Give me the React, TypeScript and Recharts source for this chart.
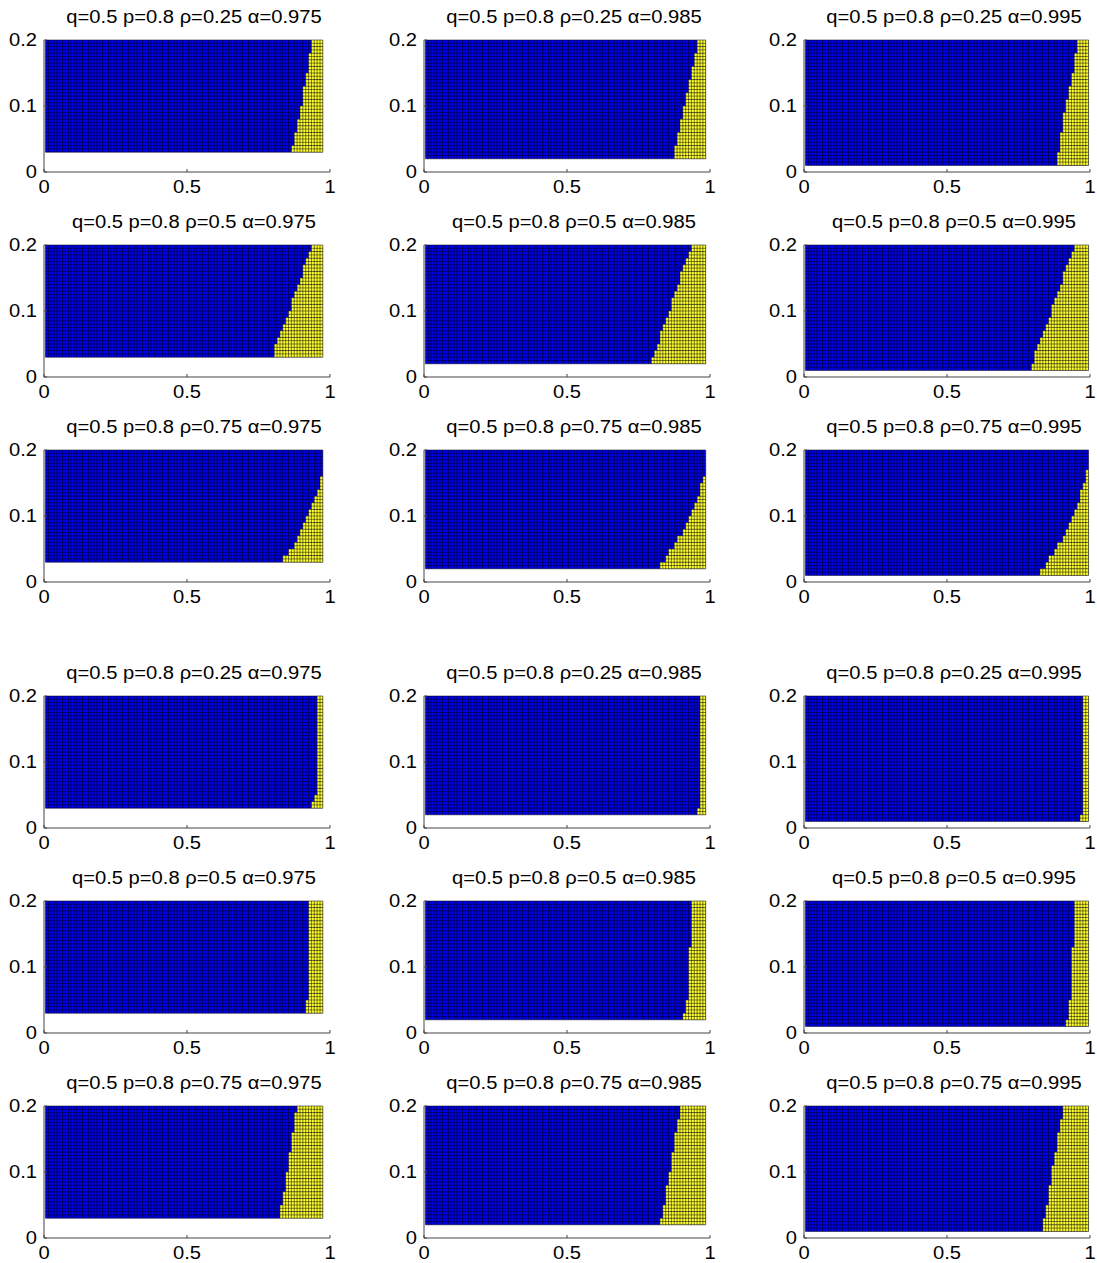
import React from 'react';
import { ComposedChart, XAxis, YAxis, ReferenceArea, ReferenceLine } from 'recharts';

const qValue = '0.5';
const pValue = '0.8';
const rhoLabels = ['0.25', '0.5', '0.75'];
const alphaValues = [0.975, 0.985, 0.995];
// lowest y value of the computed grid, one per alpha
const gridBottoms = [0.03, 0.02, 0.01];
const xTicks = [0, 0.5, 1];
const yTicks = [0, 0.1, 0.2];

// x where the yellow region starts, one value per 0.01 band of y (grid bottom upwards)
// upper block of figures
const up_r25_a975 = [0.865, 0.875, 0.875, 0.885, 0.885, 0.895, 0.895, 0.905, 0.905, 0.905, 0.915, 0.915, 0.925, 0.925, 0.925, 0.935, 0.935];
const up_r25_a985 = [0.875, 0.875, 0.885, 0.885, 0.895, 0.895, 0.905, 0.905, 0.915, 0.915, 0.925, 0.925, 0.935, 0.935, 0.945, 0.945, 0.955, 0.955];
const up_r25_a995 = [0.885, 0.885, 0.895, 0.895, 0.895, 0.905, 0.905, 0.905, 0.915, 0.915, 0.925, 0.925, 0.935, 0.935, 0.945, 0.945, 0.945, 0.955, 0.955];
const up_r50_a975 = [0.805, 0.805, 0.815, 0.825, 0.835, 0.845, 0.855, 0.865, 0.865, 0.875, 0.885, 0.895, 0.905, 0.905, 0.915, 0.925, 0.935];
const up_r50_a985 = [0.795, 0.805, 0.815, 0.825, 0.825, 0.835, 0.845, 0.855, 0.865, 0.865, 0.875, 0.885, 0.895, 0.895, 0.905, 0.915, 0.925, 0.935];
const up_r50_a995 = [0.795, 0.805, 0.805, 0.815, 0.825, 0.835, 0.845, 0.855, 0.865, 0.865, 0.875, 0.885, 0.895, 0.905, 0.905, 0.915, 0.925, 0.935, 0.945];
const up_r75_a975 = [0.835, 0.855, 0.875, 0.885, 0.895, 0.905, 0.915, 0.925, 0.935, 0.945, 0.955, 0.965, 0.965, 0.975, 0.975, 0.975, 0.975];
const up_r75_a985 = [0.825, 0.845, 0.855, 0.875, 0.885, 0.905, 0.915, 0.925, 0.935, 0.945, 0.955, 0.965, 0.965, 0.975, 0.985, 0.985, 0.985, 0.985];
const up_r75_a995 = [0.825, 0.845, 0.855, 0.875, 0.885, 0.905, 0.915, 0.925, 0.935, 0.945, 0.955, 0.965, 0.965, 0.975, 0.985, 0.985, 0.995, 0.995, 0.995];

// lower block of figures
const lo_r25_a975 = [0.935, 0.945, 0.955, 0.955, 0.955, 0.955, 0.955, 0.955, 0.955, 0.955, 0.955, 0.955, 0.955, 0.955, 0.955, 0.955, 0.955];
const lo_r25_a985 = [0.955, 0.965, 0.965, 0.965, 0.965, 0.965, 0.965, 0.965, 0.965, 0.965, 0.965, 0.965, 0.965, 0.965, 0.965, 0.965, 0.965, 0.965];
const lo_r25_a995 = [0.965, 0.975, 0.975, 0.975, 0.975, 0.975, 0.975, 0.975, 0.975, 0.975, 0.975, 0.975, 0.975, 0.975, 0.975, 0.975, 0.975, 0.975, 0.975];
const lo_r50_a975 = [0.915, 0.915, 0.925, 0.925, 0.925, 0.925, 0.925, 0.925, 0.925, 0.925, 0.925, 0.925, 0.925, 0.925, 0.925, 0.925, 0.925];
const lo_r50_a985 = [0.905, 0.915, 0.915, 0.925, 0.925, 0.925, 0.925, 0.925, 0.925, 0.925, 0.925, 0.935, 0.935, 0.935, 0.935, 0.935, 0.935, 0.935];
const lo_r50_a995 = [0.915, 0.925, 0.925, 0.925, 0.935, 0.935, 0.935, 0.935, 0.935, 0.935, 0.935, 0.935, 0.945, 0.945, 0.945, 0.945, 0.945, 0.945, 0.945];
const lo_r75_a975 = [0.825, 0.825, 0.835, 0.835, 0.845, 0.845, 0.845, 0.855, 0.855, 0.855, 0.865, 0.865, 0.865, 0.875, 0.875, 0.875, 0.885];
const lo_r75_a985 = [0.825, 0.835, 0.835, 0.845, 0.845, 0.845, 0.855, 0.855, 0.865, 0.865, 0.865, 0.875, 0.875, 0.875, 0.885, 0.885, 0.895, 0.895];
const lo_r75_a995 = [0.835, 0.835, 0.845, 0.845, 0.855, 0.855, 0.855, 0.865, 0.865, 0.865, 0.875, 0.875, 0.885, 0.885, 0.885, 0.895, 0.895, 0.905, 0.905];

const upperBlock = [
  [up_r25_a975, up_r25_a985, up_r25_a995],
  [up_r50_a975, up_r50_a985, up_r50_a995],
  [up_r75_a975, up_r75_a985, up_r75_a995],
];
const lowerBlock = [
  [lo_r25_a975, lo_r25_a985, lo_r25_a995],
  [lo_r50_a975, lo_r50_a985, lo_r50_a995],
  [lo_r75_a975, lo_r75_a985, lo_r75_a995],
];

// page layout (plot area corners)
const colLefts = [44, 424, 804];
const rowTops = [40, 245, 450, 696, 901, 1106];
const PLOT_W = 286;
const PLOT_H = 132;
const Y_AXIS_W = 44;
const X_AXIS_H = 30;
const TOP_PAD = 14;
const RIGHT_PAD = 14;

const BLUE = '#0000f0';
const YELLOW = '#ffff30';
const FONT = '"Liberation Sans", Arial, sans-serif';
const STRETCH = 1.12;

const StretchTick = (props: any) => {
  const { x, y, payload, textAnchor, verticalAnchor } = props;
  const dy = verticalAnchor === 'start' ? '0.71em' : '0.355em';
  return (
    <g transform={`translate(${x},${y}) scale(${STRETCH},1)`}>
      <text x={0} y={0} dy={dy} textAnchor={textAnchor} fontSize={18} fontFamily={FONT} fill="#000">
        {payload.value}
      </text>
    </g>
  );
};

const Panel = ({ rho, alpha, bottom, edges, left, top }: any) => {
  const xLines: number[] = [];
  for (let k = 0; ; k++) {
    const v = +(0.005 + k * 0.01).toFixed(3);
    if (v > alpha + 1e-9) break;
    xLines.push(v);
  }
  const yLines: number[] = [];
  for (let j = 0; ; j++) {
    const v = +(bottom + j * 0.005).toFixed(3);
    if (v > 0.2 + 1e-9) break;
    yLines.push(v);
  }
  return (
    <>
      <div
        style={{
          position: 'absolute',
          left: left + 7,
          top: top - 33,
          width: PLOT_W,
          height: 20,
          lineHeight: '20px',
          textAlign: 'center',
          fontFamily: FONT,
          fontSize: 18,
          whiteSpace: 'nowrap',
          transform: `scaleX(${STRETCH})`,
        }}
      >
        q={qValue} p={pValue} ρ={rho} α={alpha}
      </div>
      <div style={{ position: 'absolute', left: left - Y_AXIS_W, top: top - TOP_PAD }}>
        <ComposedChart
          width={Y_AXIS_W + PLOT_W + RIGHT_PAD}
          height={TOP_PAD + PLOT_H + X_AXIS_H}
          margin={{ top: TOP_PAD, right: RIGHT_PAD, bottom: 0, left: 0 }}
        >
          <XAxis
            type="number"
            dataKey="x"
            domain={[0, 1]}
            ticks={xTicks}
            interval={0}
            allowDataOverflow
            height={X_AXIS_H}
            axisLine={{ stroke: '#444' }}
            tickLine={{ stroke: '#444' }}
            tickSize={-3}
            tickMargin={11}
            tick={<StretchTick />}
          />
          <YAxis
            type="number"
            dataKey="y"
            domain={[0, 0.2]}
            ticks={yTicks}
            interval={0}
            allowDataOverflow
            width={Y_AXIS_W}
            axisLine={{ stroke: '#444' }}
            tickLine={{ stroke: '#444' }}
            tickSize={-3}
            tickMargin={10}
            tick={<StretchTick />}
          />
          <ReferenceArea x1={0.005} x2={alpha} y1={bottom} y2={0.2} fill={BLUE} fillOpacity={1} stroke="none" />
          {edges.map((e: number, i: number) =>
            e < alpha ? (
              <ReferenceArea
                key={`yl-${i}`}
                x1={e}
                x2={alpha}
                y1={+(bottom + i * 0.01).toFixed(3)}
                y2={+(bottom + (i + 1) * 0.01).toFixed(3)}
                fill={YELLOW}
                fillOpacity={1}
                stroke="none"
              />
            ) : null
          )}
          {xLines.map((v) => (
            <ReferenceLine
              key={`gx-${v}`}
              segment={[{ x: v, y: bottom }, { x: v, y: 0.2 }]}
              stroke="#000"
              strokeWidth={0.5}
            />
          ))}
          {yLines.map((v) => (
            <ReferenceLine
              key={`gy-${v}`}
              segment={[{ x: 0.005, y: v }, { x: alpha, y: v }]}
              stroke="#000"
              strokeWidth={0.5}
            />
          ))}
        </ComposedChart>
      </div>
    </>
  );
};

export default function App() {
  const blocks = [upperBlock, lowerBlock];
  return (
    <div style={{ position: 'absolute', left: 0, top: 0, width: 1097, height: 1263, background: '#fff' }}>
      {blocks.map((block, b) =>
        block.map((row, r) =>
          row.map((edges, c) => (
            <Panel
              key={`${b}-${r}-${c}`}
              rho={rhoLabels[r]}
              alpha={alphaValues[c]}
              bottom={gridBottoms[c]}
              edges={edges}
              left={colLefts[c]}
              top={rowTops[b * 3 + r]}
            />
          ))
        )
      )}
    </div>
  );
}
